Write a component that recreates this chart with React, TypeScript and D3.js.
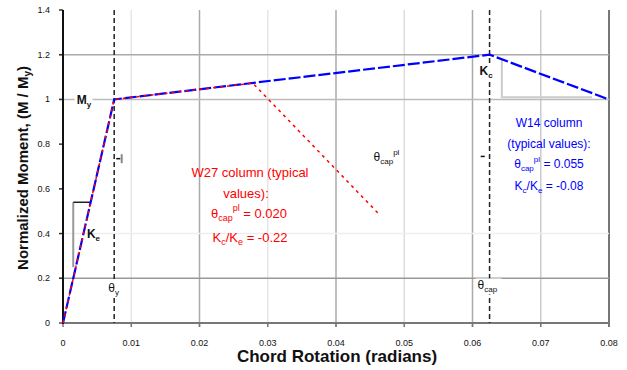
import React from "react";
import * as d3 from "d3";

const xTicks = [0, 0.01, 0.02, 0.03, 0.04, 0.05, 0.06, 0.07, 0.08];
const xTickLabels = ["0", "0.01", "0.02", "0.03", "0.04", "0.05", "0.06", "0.07", "0.08"];
const xGridColors = ["none", "#e6e6e6", "#aaaaaa", "#e6e6e6", "#aaaaaa", "#dddddd", "#aaaaaa", "#cccccc", "#777777"];
const yTicks = [0, 0.2, 0.4, 0.6, 0.8, 1.0, 1.2, 1.4];
const yTickLabels = ["0", "0.2", "0.4", "0.6", "0.8", "1", "1.2", "1.4"];
const yGridColors = ["none", "#999999", "#eeeeee", "none", "none", "#bbbbbb", "#aaaaaa", "none"];

// W14 column backbone (blue)
const blueRot = [0, 0.0075, 0.0625, 0.08];
const blueMom = [0, 1.0, 1.2, 1.0];
// W27 column backbone (red)
const redRot = [0, 0.0075, 0.0278, 0.0462];
const redMom = [0, 1.0, 1.073, 0.49];

const thetaY = 0.0075;
const thetaCap = 0.0625;

const keTri = [[0.0015, 0.25], [0.0015, 0.54], [0.0041, 0.54]];
const kcTri = [[0.0643, 1.18], [0.0643, 1.01], [0.0775, 1.01]];

export default function App() {
  const W = 627, H = 370;
  const x = d3.scaleLinear().domain([0, 0.08]).range([63, 609]);
  const y = d3.scaleLinear().domain([0, 1.4]).range([323, 10]);
  const mk = (rs: number[], ms: number[]) =>
    d3.line<[number, number]>().x((d) => x(d[0])).y((d) => y(d[1]))(rs.map((r, i) => [r, ms[i]] as [number, number]))!;
  const tri = (pts: number[][]) =>
    d3.line<number[]>().x((d) => x(d[0])).y((d) => y(d[1]))(pts)!;
  const font = "Liberation Sans, Arial, sans-serif";
  const top = y(1.4), bot = y(0);

  return (
    <svg width={W} height={H} style={{ position: "absolute", left: 0, top: 0, background: "#fff" }} fontFamily={font}>
      {/* vertical grid */}
      {xTicks.map((t, i) =>
        xGridColors[i] === "none" ? null : (
          <line key={"vg" + i} x1={x(t)} x2={x(t)} y1={top} y2={bot + 4} stroke={xGridColors[i]} strokeWidth={i === 8 ? 2 : 1.5} />
        )
      )}
      {/* horizontal grid */}
      {yTicks.map((t, i) =>
        yGridColors[i] === "none" ? null : (
          <line key={"hg" + i} x1={x(0) - 4} x2={x(0.08)} y1={y(t)} y2={y(t)} stroke={yGridColors[i]} strokeWidth={1.5} />
        )
      )}
      {/* y ticks */}
      {yTicks.map((t, i) => (
        <line key={"yt" + i} x1={x(0) - 4} x2={x(0)} y1={y(t)} y2={y(t)} stroke="#333" strokeWidth={1.5} />
      ))}
      {/* bottom axis */}
      <line x1={x(0) - 4} x2={x(0.08)} y1={bot} y2={bot} stroke="#777" strokeWidth={2} />
      {xTicks.map((t, i) => (
        <line key={"xt" + i} x1={x(t)} x2={x(t)} y1={bot} y2={bot + 4} stroke="#777" strokeWidth={1.5} />
      ))}
      {/* left axis */}
      <line x1={x(0)} x2={x(0)} y1={top} y2={bot + 1} stroke="#111" strokeWidth={2} />

      {/* dashed reference lines */}
      <line x1={x(thetaY)} x2={x(thetaY)} y1={top} y2={bot} stroke="#222" strokeWidth={1.5} strokeDasharray="5,3" />
      <line x1={x(thetaCap)} x2={x(thetaCap)} y1={top} y2={bot} stroke="#222" strokeWidth={1.5} strokeDasharray="5,3" />

      {/* slope triangles */}
      <path d={tri(keTri.slice(0, 2))} fill="none" stroke="#999" strokeWidth={2} />
      <path d={tri(keTri.slice(1))} fill="none" stroke="#222" strokeWidth={1.5} />
      <path d={tri(kcTri)} fill="none" stroke="#cccccc" strokeWidth={2} />

      {/* curves */}
      <path d={mk(blueRot, blueMom)} fill="none" stroke="#0000ff" strokeWidth={2.2} strokeDasharray="12,3" />
      <path d={mk(redRot, redMom)} fill="none" stroke="#ff0000" strokeWidth={1.5} strokeDasharray="3,4" />

      {/* small marks */}
      <line x1={x(0.0078)} x2={x(0.0084)} y1={y(0.735)} y2={y(0.735)} stroke="#111" strokeWidth={1.5} />
      <line x1={x(0.0086)} x2={x(0.0086)} y1={y(0.755)} y2={y(0.715)} stroke="#888" strokeWidth={2} />
      <line x1={x(0.0612)} x2={x(0.0618)} y1={y(0.745)} y2={y(0.745)} stroke="#111" strokeWidth={1.5} />

      {/* axis tick labels */}
      {yTicks.map((t, i) => (
        <text key={"yl" + i} x={x(0) - 13} y={y(t) + 3} fontSize={9} textAnchor="end" fill="#111">{yTickLabels[i]}</text>
      ))}
      {xTicks.map((t, i) => (
        <text key={"xl" + i} x={x(t)} y={bot + 23} fontSize={9} textAnchor="middle" fill="#111">{xTickLabels[i]}</text>
      ))}

      {/* axis titles */}
      <text x={337} y={362} fontSize={17} fontWeight="bold" textAnchor="middle" fill="#111">Chord Rotation (radians)</text>
      <text transform={`translate(28,168) rotate(-90)`} fontSize={15} fontWeight="bold" textAnchor="middle" fill="#111">
        Normalized Moment, (M / M<tspan fontSize={10} dy={3}>y</tspan><tspan dy={-3}>)</tspan>
      </text>

      {/* point labels with white background */}
      <rect x={x(0.0017)} y={y(1.0) - 7} width={18} height={16} fill="#fff" />
      <text x={x(0.002)} y={y(1.0) + 5} fontSize={12} fontWeight="bold" fill="#111">M<tspan fontSize={8} dy={3}>y</tspan></text>
      <text x={x(0.0035)} y={y(0.38)} fontSize={12} fontWeight="bold" fill="#111">K<tspan fontSize={8} dy={3}>e</tspan></text>
      <rect x={x(thetaY) - 8} y={y(0.14) - 11} width={16} height={16} fill="#fff" />
      <text x={x(thetaY) - 6} y={y(0.14)} fontSize={12} fill="#111">θ<tspan fontSize={8} dy={3}>y</tspan></text>
      <rect x={x(thetaCap) - 14} y={y(0.15) - 11} width={26} height={16} fill="#fff" />
      <text x={x(thetaCap) - 12} y={y(0.15)} fontSize={12} fill="#111">θ<tspan fontSize={8} dy={3}>cap</tspan></text>
      <rect x={x(thetaCap) - 12} y={y(1.11) - 11} width={14} height={16} fill="#fff" />
      <text x={x(thetaCap) - 10} y={y(1.11)} fontSize={12} fontWeight="bold" fill="#111">K<tspan fontSize={8} dy={3}>c</tspan></text>
      <text x={x(0.0455)} y={y(0.725)} fontSize={12} fill="#111">θ<tspan fontSize={8} dy={3}>cap</tspan><tspan fontSize={8} dy={-9}>pl</tspan></text>

      {/* red annotation */}
      <g fill="#ff0000" fontSize={13} textAnchor="middle">
        <text x={250} y={177}>W27 column (typical</text>
        <text x={246} y={198}>values):</text>
        <text x={249} y={218}>θ<tspan fontSize={9} dy={3}>cap</tspan><tspan fontSize={9} dy={-10}>pl</tspan><tspan dy={7}> = 0.020</tspan></text>
        <text x={250} y={242}>K<tspan fontSize={9} dy={3}>c</tspan><tspan dy={-3}>/K</tspan><tspan fontSize={9} dy={3}>e</tspan><tspan dy={-3}> = -0.22</tspan></text>
      </g>
      {/* blue annotation */}
      <g fill="#0000ff" fontSize={12} textAnchor="middle">
        <text x={549} y={127}>W14 column</text>
        <text x={549} y={148}>(typical values):</text>
        <text x={549} y={168}>θ<tspan fontSize={8} dy={3}>cap</tspan><tspan fontSize={8} dy={-9}>pl</tspan><tspan dy={6}> = 0.055</tspan></text>
        <text x={549} y={190}>K<tspan fontSize={8} dy={3}>c</tspan><tspan dy={-3}>/K</tspan><tspan fontSize={8} dy={3}>e</tspan><tspan dy={-3}> = -0.08</tspan></text>
      </g>
    </svg>
  );
}
